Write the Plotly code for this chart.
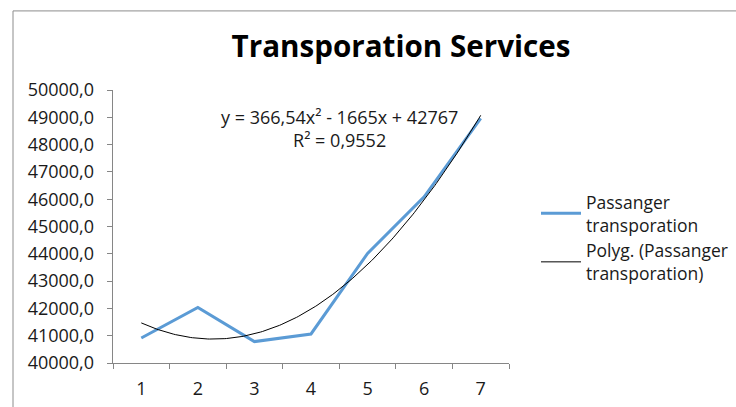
import numpy as np
import plotly.graph_objects as go

# ---- data ----
categories = ["1", "2", "3", "4", "5", "6", "7"]
passenger = [40917, 42031, 40785, 41063, 44012, 46087, 48962]
trend_coeffs = [366.54, -1665.0, 42767.0]   # polynomial trendline (order 2), as printed on chart
trend_label = "y = 366,54x² - 1665x + 42767<br>R² = 0,9552"
title_text = "Transporation Services"
series_name = "Passanger<br>transporation"
trend_name = "Polyg. (Passanger<br>transporation)"

FONT = "Open Sans"
AXIS_GRAY = "#868686"
TXT = "#1a1a1a"

W, H = 736, 407
PL, PR, PT, PB = 113, 509, 90, 362.7   # plot area in px

xs_num = np.arange(1, len(categories) + 1)
x_fine = np.linspace(xs_num[0], xs_num[-1], 200)
y_fine = np.polyval(trend_coeffs, x_fine)

fig = go.Figure()
fig.add_trace(go.Scatter(
    x=categories, y=passenger, mode="lines", name=series_name,
    line=dict(color="#5B9BD5", width=3), xaxis="x", yaxis="y",
))
fig.add_trace(go.Scatter(
    x=x_fine, y=y_fine, mode="lines", name=trend_name,
    line=dict(color="#000000", width=1), xaxis="x2", yaxis="y",
))

pw, ph = PR - PL, PB - PT

fig.update_layout(
    width=W, height=H,
    margin=dict(l=PL, r=W - PR, t=PT, b=H - PB, autoexpand=False),
    paper_bgcolor="white", plot_bgcolor="white",
    separators=",.",
    font=dict(family=FONT, size=18, color=TXT),
    title=dict(text="<b>" + title_text + "</b>", x=401 / W, xanchor="center",
               y=1 - 47 / H, yanchor="middle",
               font=dict(family=FONT, size=29.6, color="#000000")),
    xaxis=dict(type="category", range=[-0.5, 6.5], tickson="boundaries",
               showline=True, linecolor=AXIS_GRAY, linewidth=1,
               ticks="outside", ticklen=5, tickcolor=AXIS_GRAY,
               showgrid=False, zeroline=False, automargin=False,
               ticklabelstandoff=9,
               tickfont=dict(family=FONT, size=18, color=TXT)),
    xaxis2=dict(overlaying="x", range=[0.5, 7.5], visible=False),
    yaxis=dict(range=[40000, 50000], dtick=1000, tickformat=".1f",
               ticksuffix="\u00a0\u00a0",
               showline=True, linecolor=AXIS_GRAY, linewidth=1,
               ticks="outside", ticklen=5, tickcolor=AXIS_GRAY,
               showgrid=False, zeroline=False, automargin=False,
               tickfont=dict(family=FONT, size=18, color=TXT)),
    legend=dict(x=(536 - PL) / pw, y=(PB - 184) / ph, xanchor="left", yanchor="top",
                font=dict(family=FONT, size=17.5, color=TXT), itemwidth=40,
                tracegroupgap=4, bgcolor="rgba(0,0,0,0)"),
    showlegend=True,
)

fig.add_annotation(text=trend_label, xref="paper", yref="paper",
                   x=(339 - PL) / pw, y=(PB - 128) / ph,
                   xanchor="center", yanchor="middle", showarrow=False,
                   font=dict(family=FONT, size=18, color=TXT))

# chart frame border: top and left edges (right/bottom lie outside the picture)
fx0 = (13 - PL) / pw
fy1 = (PB - 11) / ph
fig.add_shape(type="line", xref="paper", yref="paper",
              x0=fx0, x1=(W + 20 - PL) / pw, y0=fy1, y1=fy1,
              line=dict(color="#8c8c8c", width=1), layer="below")
fig.add_shape(type="line", xref="paper", yref="paper",
              x0=fx0, x1=fx0, y0=fy1, y1=(PB - H - 20) / ph,
              line=dict(color="#8c8c8c", width=1), layer="below")

fig.write_html("out.html", config={"displayModeBar": False},
               post_script="document.body.style.margin='0';document.body.style.overflow='hidden';")
